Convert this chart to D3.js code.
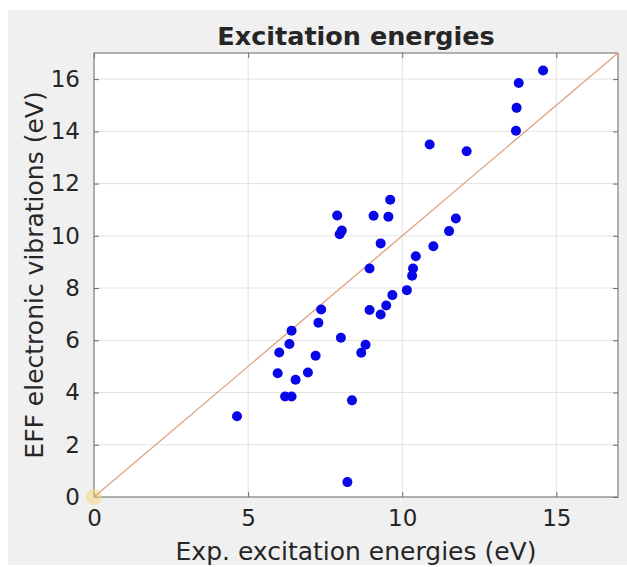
<!DOCTYPE html>
<html>
<head>
<meta charset="utf-8">
<script src="https://cdn.jsdelivr.net/npm/d3@7"></script>
<style>
  body { margin: 0; background: #fff; }
  text { font-family: "DejaVu Sans", sans-serif; fill: #262626; }
</style>
</head>
<body>
<div class="Chart"></div>
<script>
// experimental vs EFF excitation energies (eV)
const expEnergies = [4.64, 5.96, 6.01, 6.20, 6.41, 6.34, 6.41, 6.54, 6.94, 7.19,
  7.28, 7.37, 7.89, 7.97, 8.04, 8.01, 8.22, 8.37, 8.67, 8.81,
  8.94, 8.94, 9.07, 9.30, 9.30, 9.48, 9.55, 9.61, 9.68, 10.15,
  10.32, 10.35, 10.44, 10.89, 11.01, 11.52, 11.74, 12.09, 13.69, 13.71,
  13.78, 14.57];
const effEnergies = [3.09, 4.74, 5.53, 3.85, 3.85, 5.86, 6.37, 4.49, 4.77, 5.41,
  6.67, 7.18, 10.78, 10.06, 10.20, 6.10, 0.57, 3.70, 5.52, 5.83,
  8.75, 7.16, 10.77, 6.99, 9.71, 7.33, 10.73, 11.38, 7.73, 7.92,
  8.47, 8.75, 9.22, 13.50, 9.60, 10.18, 10.66, 13.24, 14.02, 14.90,
  15.85, 16.33];
const xTicks = [0, 5, 10, 15];
const yTicks = [0, 2, 4, 6, 8, 10, 12, 14, 16];
const axisMax = 17;

const w = 627, h = 567;
const pLeft = 94, pRight = 618, pTop = 53, pBottom = 497;

const points = expEnergies.map((x, i) => ({ x: x, y: effEnergies[i] }));

const xScale = d3.scaleLinear().domain([0, axisMax]).range([pLeft, pRight]);
const yScale = d3.scaleLinear().domain([0, axisMax]).range([pBottom, pTop]);

const svg = d3.select(".Chart")
  .append("svg")
  .attr("width", w)
  .attr("height", h);

svg.append("rect")
  .attr("x", 8).attr("y", 10)
  .attr("width", w - 8).attr("height", h - 12)
  .attr("fill", "#f0f0f0");

svg.append("rect")
  .attr("x", pLeft).attr("y", pTop)
  .attr("width", pRight - pLeft).attr("height", pBottom - pTop)
  .attr("fill", "#fff");

// grid
svg.append("g")
  .selectAll("line")
  .data(xTicks)
  .enter()
  .append("line")
  .attr("x1", d => xScale(d)).attr("x2", d => xScale(d))
  .attr("y1", pTop).attr("y2", pBottom)
  .attr("stroke", "#e3e3e3");

svg.append("g")
  .selectAll("line")
  .data(yTicks)
  .enter()
  .append("line")
  .attr("x1", pLeft).attr("x2", pRight)
  .attr("y1", d => yScale(d)).attr("y2", d => yScale(d))
  .attr("stroke", "#e3e3e3");

// axes, ticks inside
const xAxis = d3.axisBottom(xScale).tickValues(xTicks).tickSizeInner(-5).tickSizeOuter(0).tickPadding(13);
const yAxis = d3.axisLeft(yScale).tickValues(yTicks).tickSizeInner(-5).tickSizeOuter(0).tickPadding(14);

svg.append("g")
  .attr("transform", "translate(0," + pBottom + ")")
  .call(xAxis);
svg.append("g")
  .attr("transform", "translate(" + pLeft + ",0)")
  .call(yAxis);

svg.append("g")
  .attr("transform", "translate(0," + pTop + ")")
  .call(d3.axisTop(xScale).tickValues(xTicks).tickSizeInner(-5).tickSizeOuter(0).tickFormat(""));
svg.append("g")
  .attr("transform", "translate(" + pRight + ",0)")
  .call(d3.axisRight(yScale).tickValues(yTicks).tickSizeInner(-5).tickSizeOuter(0).tickFormat(""));

svg.selectAll(".tick line").attr("stroke", "#6a6a6a");
svg.selectAll(".tick text")
  .style("font-family", "DejaVu Sans, sans-serif")
  .style("font-size", "23px")
  .attr("fill", "#262626");
svg.selectAll(".domain").remove();
svg.append("rect")
  .attr("x", pLeft).attr("y", pTop)
  .attr("width", pRight - pLeft).attr("height", pBottom - pTop)
  .attr("fill", "none")
  .attr("stroke", "#6a6a6a");

// origin marker
svg.append("circle")
  .attr("cx", xScale(0)).attr("cy", yScale(0))
  .attr("r", 8)
  .attr("fill", "#f5d98a")
  .attr("opacity", 0.6);

// y = x line
svg.append("line")
  .attr("x1", xScale(0)).attr("y1", yScale(0))
  .attr("x2", xScale(axisMax)).attr("y2", yScale(axisMax))
  .attr("stroke", "#dca27e")
  .attr("stroke-width", 1.3);

svg.selectAll("circle.pt")
  .data(points)
  .enter()
  .append("circle")
  .attr("class", "pt")
  .attr("cx", d => xScale(d.x))
  .attr("cy", d => yScale(d.y))
  .attr("r", 5)
  .attr("fill", "#0707e8");

svg.append("text")
  .attr("x", (pLeft + pRight) / 2)
  .attr("y", 45)
  .attr("text-anchor", "middle")
  .style("font-size", "25.5px")
  .style("font-weight", "bold")
  .attr("fill", "#000")
  .text("Excitation energies");

svg.append("text")
  .attr("x", (pLeft + pRight) / 2)
  .attr("y", 560)
  .attr("text-anchor", "middle")
  .style("font-size", "25px")
  .text("Exp. excitation energies (eV)");

svg.append("text")
  .attr("transform", "translate(43," + ((pTop + pBottom) / 2) + ") rotate(-90)")
  .attr("text-anchor", "middle")
  .style("font-size", "25px")
  .text("EFF electronic vibrations (eV)");
</script>
</body>
</html>
